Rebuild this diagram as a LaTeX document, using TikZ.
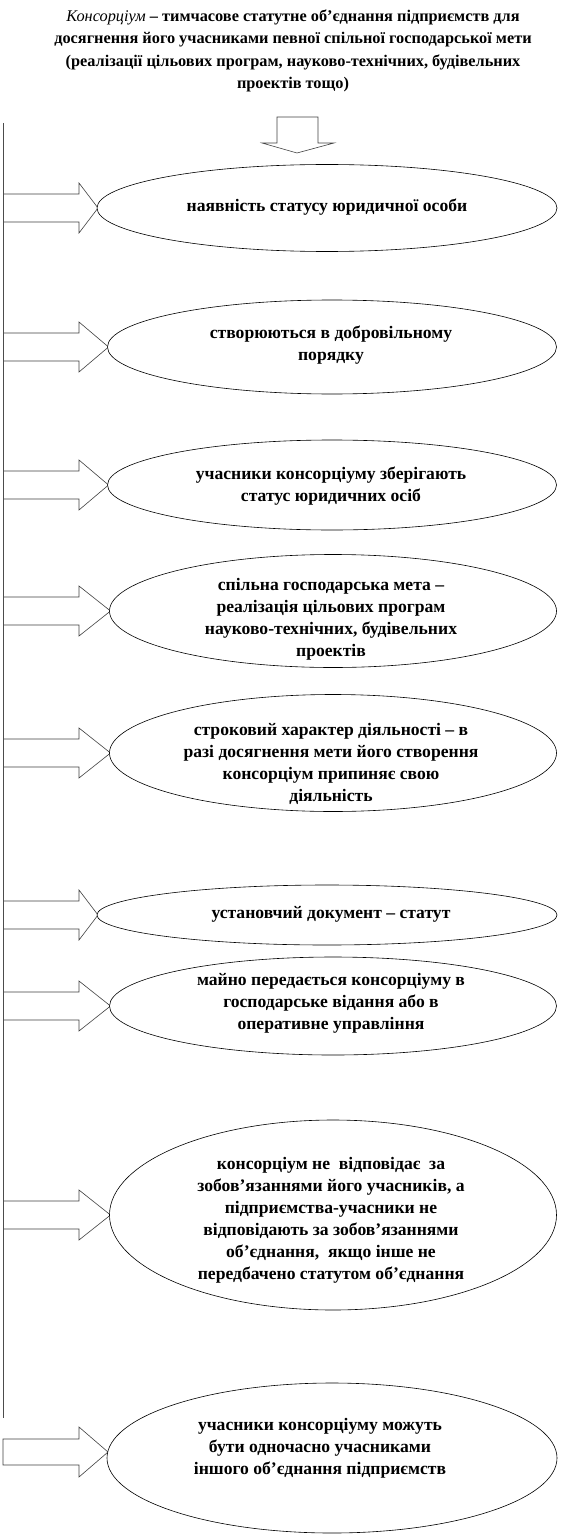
\documentclass[tikz,border=0pt]{standalone}
\usepackage{fontspec}
\setmainfont{Liberation Serif}
\usetikzlibrary{shapes.geometric}
\begin{document}
\begin{tikzpicture}[x=1pt,y=-1pt,
  oval/.style={draw=black, fill=white, line width=0.6pt, ellipse, inner sep=0pt},
  txt/.style={align=center, font=\fontsize{17.6}{22}\selectfont\bfseries, inner sep=0pt},
  ttl/.style={align=center, font=\fontsize{16.3}{22.4}\selectfont\bfseries, inner sep=0pt},
  barrow/.style={draw=black!75, line width=0.6pt, fill=white, line join=miter},
  railline/.style={draw=black!70, line width=0.9pt}]
\useasboundingbox (0,0) rectangle (585,1538);

\node[ttl] (title) at (293,51) {\textit{\mdseries Консорціум} – тимчасове статутне об’єднання підприємств для\\
досягнення його учасниками певної спільної господарської мети\\
(реалізації цільових програм, науково-технічних, будівельних\\
проектів тощо)};

% down arrow
\coordinate (d1) at (277,117);
\coordinate (d2) at (318,117);
\coordinate (d3) at (318,143);
\coordinate (d4) at (334,143);
\coordinate (dtip) at (297,153);
\coordinate (d6) at (262,143);
\coordinate (d7) at (277,143);
\draw[barrow] (d1) -- (d2) -- (d3) -- (d4) -- (dtip) -- (d6) -- (d7) -- cycle;

% rail
\coordinate (railtop) at (3,123);
\coordinate (railbot) at (3,1418);

% ellipse positions
\coordinate (c1) at (327,208);
\coordinate (c2) at (332,347);
\coordinate (c3) at (332,485);
\coordinate (c4) at (333,611);
\coordinate (c5) at (333,753);
\coordinate (c6) at (327,915);
\coordinate (c7) at (333,1006);
\coordinate (c8) at (333,1215);
\coordinate (c9) at (332,1458);

% block arrows from the rail to the ellipses (drawn first, ellipses overlap tips)
\foreach \e/\c/\w in {e1/c1/460,e2/c2/449,e3/c3/449,e4/c4/447,e5/c5/447,e6/c6/460,e7/c7/447,e8/c8/447}{
  \coordinate (tip\e) at ([xshift=-\w/2*1pt+1pt]\c);
  \coordinate (b\e) at (79,0 |- tip\e);
  \coordinate (r\e) at (3,0 |- tip\e);
  \draw[barrow] ([yshift=14pt]r\e) -- ([yshift=14pt]b\e) -- ([yshift=25pt]b\e) -- (tip\e)
     -- ([yshift=-25pt]b\e) -- ([yshift=-14pt]b\e) -- ([yshift=-14pt]r\e);
}
\coordinate (tipe9) at (108,1452);
\coordinate (be9) at (79,1452);
\coordinate (re9) at (3,1452);
\draw[barrow] ([yshift=13pt]re9) -- ([yshift=13pt]be9) -- ([yshift=25pt]be9) -- (tipe9)
   -- ([yshift=-25pt]be9) -- ([yshift=-13pt]be9) -- ([yshift=-13pt]re9) -- cycle;

\draw[railline] (railtop) -- (railbot);

% ellipses
\node[oval, minimum width=460pt, minimum height=87pt] (e1) at (c1) {};
\node[oval, minimum width=449pt, minimum height=94pt] (e2) at (c2) {};
\node[oval, minimum width=449pt, minimum height=90pt] (e3) at (c3) {};
\node[oval, minimum width=447pt, minimum height=113pt] (e4) at (c4) {};
\node[oval, minimum width=447pt, minimum height=117pt] (e5) at (c5) {};
\node[oval, minimum width=460pt, minimum height=60pt] (e6) at (c6) {};
\node[oval, minimum width=447pt, minimum height=98pt] (e7) at (c7) {};
\node[oval, minimum width=447pt, minimum height=190pt] (e8) at (c8) {};
\node[oval, minimum width=450pt, minimum height=150pt] (e9) at (c9) {};

% texts
\node[txt] (t1) at (327,207) {наявність статусу юридичної особи};
\node[txt] (t2) at (331,345) {створюються в добровільному\\порядку};
\node[txt] (t3) at (331,486) {учасники консорціуму зберігають\\статус юридичних осіб};
\node[txt] (t4) at (331,619) {спільна господарська мета –\\реалізація  цільових програм\\науково-технічних, будівельних\\проектів};
\node[txt] (t5) at (331,764) {строковий характер діяльності – в\\разі досягнення мети його створення\\консорціум припиняє свою\\діяльність};
\node[txt] (t6) at (331,914) {установчий документ – статут};
\node[txt] (t7) at (331,1003) {майно передається консорціуму в\\господарське відання або в\\оперативне управління};
\node[txt] (t8) at (331,1220) {консорціум не \ відповідає \ за\\зобов’язаннями його учасників, а\\підприємства-учасники не\\відповідають за зобов’язаннями\\об’єднання, \ якщо інше не\\передбачено статутом об’єднання};
\node[txt] (t9) at (320,1448) {учасники консорціуму можуть\\бути одночасно учасниками\\іншого об’єднання підприємств};
\end{tikzpicture}
\end{document}
